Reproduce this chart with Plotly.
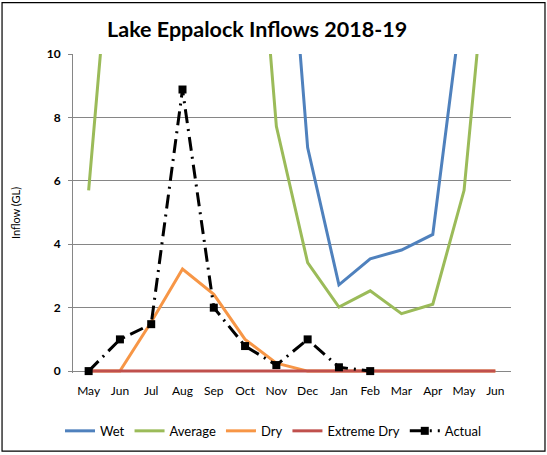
import plotly.graph_objects as go

months = ["May", "Jun", "Jul", "Aug", "Sep", "Oct", "Nov", "Dec",
          "Jan", "Feb", "Mar", "Apr", "May", "Jun"]
x_idx = list(range(len(months)))

# inflow scenarios (GL), values above 10 run off the top of the chart
wet = [12, 30, 55, 70, 60, 40, 19.5, 7.05, 2.72, 3.54, 3.82, 4.31, 12.1, 30]
average = [5.7, 16.1, 30, 40, 35, 19.8, 7.72, 3.42, 2.02, 2.53, 1.81, 2.11, 5.7, 16.1]
dry = [0, 0, 1.55, 3.22, 2.42, 1.0, 0.25, 0, 0, 0, 0, 0, 0, 0]
extreme_dry = [0, 0, 0, 0, 0, 0, 0, 0, 0, 0, 0, 0, 0, 0]
actual = [0, 1.0, 1.48, 8.88, 2.0, 0.79, 0.19, 1.0, 0.12, 0.0, None, None, None, None]

y_ticks = [0, 2, 4, 6, 8, 10]

FONT = "Lato"

fig = go.Figure()

series = [
    ("Wet", wet, "#4F81BD"),
    ("Average", average, "#9BBB59"),
    ("Dry", dry, "#F79646"),
    ("Extreme Dry", extreme_dry, "#C0504D"),
]
for name, vals, col in series:
    fig.add_trace(go.Scatter(
        x=x_idx, y=vals, name=name, mode="lines",
        line=dict(color=col, width=3)
    ))

fig.add_trace(go.Scatter(
    x=x_idx, y=actual, name="Actual", mode="lines+markers",
    line=dict(color="black", width=3, dash="14px,6px,2px,6px"),
    marker=dict(symbol="square", size=8, color="black"),
    cliponaxis=False
))

fig.update_layout(
    width=547,
    height=455,
    margin=dict(l=73, r=36, t=53.5, b=81.5),
    paper_bgcolor="white",
    plot_bgcolor="white",
    font=dict(family=FONT, size=12, color="black"),
    title=dict(
        text="Lake Eppalock Inflows 2018-19",
        font=dict(family=FONT, size=21.5, color="black", weight="bold"),
        x=0.47, xanchor="center", y=0.935, yanchor="middle"
    ),
    showlegend=True,
    legend=dict(
        orientation="h", xref="container", yref="container",
        x=0.5, xanchor="center", y=0.053, yanchor="middle",
        font=dict(family=FONT, size=13), bgcolor="rgba(0,0,0,0)",
        itemwidth=30
    ),
    xaxis=dict(
        range=[-0.5, 13.5],
        tickmode="array", tickvals=x_idx, ticktext=months,
        showgrid=False, zeroline=False, showline=False,
        ticks="", ticklabelstandoff=9, tickfont=dict(family=FONT, size=12)
    ),
    yaxis=dict(
        range=[-0.06, 10],
        tickmode="array", tickvals=y_ticks,
        showgrid=True, gridcolor="#868686", gridwidth=1,
        zeroline=True, zerolinecolor="#868686", zerolinewidth=1,
        showline=True, linecolor="#868686", linewidth=1,
        ticks="outside", ticklen=4, tickcolor="#868686",
        ticklabelstandoff=5,
        tickfont=dict(family=FONT, size=12, weight="bold")
    ),
    annotations=[dict(
        text="Inflow (GL)", xref="paper", yref="paper",
        x=-0.131, y=0.5, xanchor="center", yanchor="middle",
        textangle=-90, showarrow=False, font=dict(family=FONT, size=11)
    )],
    shapes=[dict(
        type="rect", xref="paper", yref="paper",
        x0=-0.162, x1=1.0776, y0=-0.245, y1=1.161,
        line=dict(color="black", width=1.2), layer="above"
    )]
)

fig.write_html("out.html", config={"displayModeBar": False},
               post_script="document.body.style.margin='0';")
